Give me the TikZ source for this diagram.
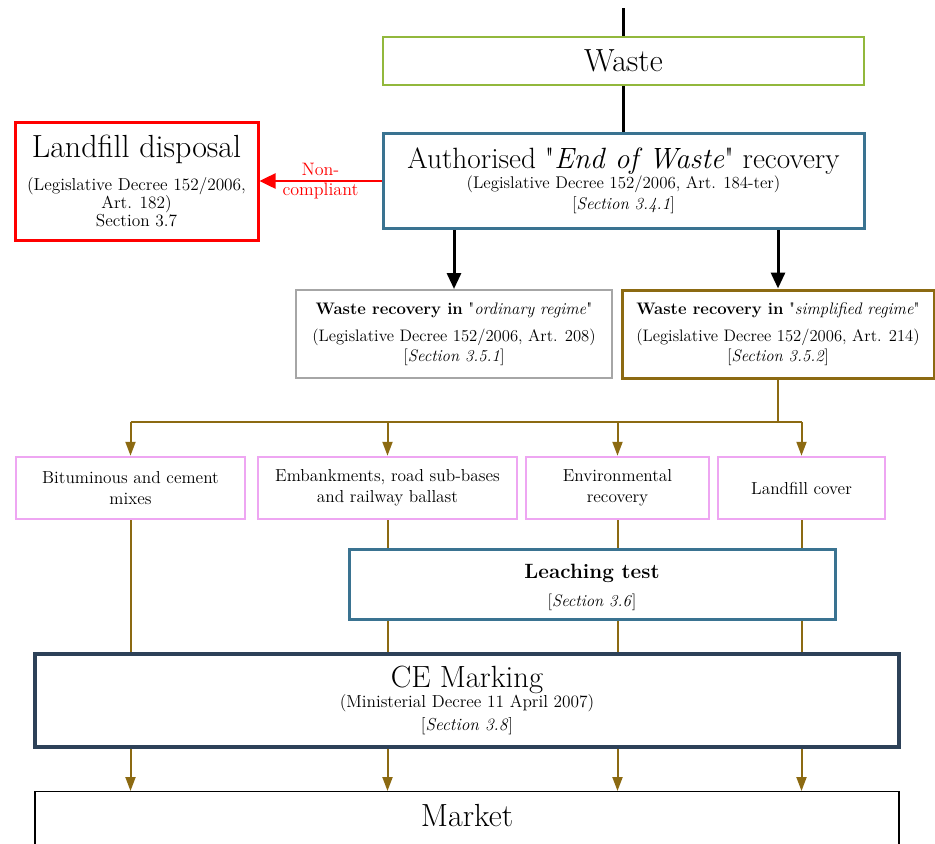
\documentclass[tikz,border=0pt]{standalone}
\usepackage{xcolor}
\usetikzlibrary{arrows.meta}

\definecolor{wastegreen}{HTML}{92B83C}
\definecolor{authblue}{HTML}{3A7391}
\definecolor{landred}{HTML}{FF0000}
\definecolor{ordgray}{HTML}{A6A6A6}
\definecolor{simpbrown}{HTML}{8C6A12}
\definecolor{usepink}{HTML}{EEA6F2}
\definecolor{cenavy}{HTML}{2D4158}

\newcommand{\px}{0.75pt}
\newcommand{\fs}[2]{\fontsize{#1}{#2}\selectfont}
\newcommand{\qq}[1]{\textquotedbl#1\textquotedbl}

\begin{document}
\begin{tikzpicture}[x=\px, y=-\px,
            box/.style={draw, rectangle, align=center, fill=white, inner sep=1pt},
            bigtxt/.style={font=\fs{24}{28}},
            blackline/.style={line width=3*\px, black},
            blackarrow/.style={blackline, -{Triangle[width=14*\px,length=16*\px]}},
            redarrow/.style={line width=2.5*\px, landred, -{Triangle[width=15*\px,length=16*\px]}},
            brownline/.style={line width=2*\px, simpbrown},
            brownarrow/.style={brownline, -{Triangle[width=10*\px,length=14*\px]}},
            usebox/.style={box, draw=usepink, line width=2.5*\px, minimum height=62*\px, font=\fs{13}{15.75}}]
        \useasboundingbox (0,0) rectangle (935,843);

        % main chain
        \coordinate (top) at (623.5,8);
        \node[box, bigtxt, draw=wastegreen, line width=2*\px, minimum width=481*\px, minimum height=48*\px] (waste) at (623.5,61) {Waste};
        \node[box, draw=authblue, line width=3*\px, minimum width=481*\px, minimum height=95*\px, font=\fs{12.7}{13.5}] (auth) at (623.5,181)
            {{\fs{22}{26}Authorised \qq{\textit{End of Waste}} recovery}\\
             (Legislative Decree 152/2006, Art. 184-ter)\\[2pt]
             {[}\textit{Section 3.4.1}{]}};
        \node[box, draw=landred, line width=3*\px, minimum width=243*\px, minimum height=118*\px, font=\fs{13}{13.5}] (land) at (136.5,181)
            {{\fs{24}{28}Landfill disposal}\\[9pt]
             (Legislative Decree 152/2006,\\
             Art. 182)\\
             Section 3.7};

        % regimes
        \node[box, draw=ordgray, line width=2*\px, minimum width=316*\px, minimum height=88*\px, font=\fs{12.5}{15}] (ord) at (454,334)
            {\textbf{Waste recovery in} \qq{\textit{ordinary regime}}\\[5pt]
             (Legislative Decree 152/2006, Art. 208)\\
             {[}\textit{Section 3.5.1}{]}};
        \node[box, draw=simpbrown, line width=3*\px, minimum width=312*\px, minimum height=88*\px, font=\fs{12.5}{15}] (simp) at (778,334)
            {\textbf{Waste recovery in} \qq{\textit{simplified regime}}\\[5pt]
             (Legislative Decree 152/2006, Art. 214)\\
             {[}\textit{Section 3.5.2}{]}};

        % uses
        \node[usebox, minimum width=229*\px] (b1) at (130.5,488) {Bituminous and cement\\mixes};
        \node[usebox, minimum width=259*\px] (b2) at (387.5,488) {Embankments, road sub-bases\\and railway ballast};
        \node[usebox, minimum width=183*\px] (b3) at (617.5,488) {Environmental\\recovery};
        \node[usebox, minimum width=167*\px] (b4) at (801.5,488) {Landfill cover};

        \node[box, draw=authblue, line width=3*\px, minimum width=486*\px, minimum height=70*\px, font=\fs{12.5}{15}] (leach) at (592,584)
            {{\fs{15.5}{18}\rule{0pt}{16pt}\textbf{Leaching test}}\\[6pt]
             {[}\textit{Section 3.6}{]}};
        \node[box, draw=cenavy, line width=4*\px, minimum width=864*\px, minimum height=93*\px, font=\fs{13}{15}] (ce) at (467,700.5)
            {{\fs{23}{27}CE Marking}\\
             (Ministerial Decree 11 April 2007)\\[2pt]
             {[}\textit{Section 3.8}{]}};
        \node[box, bigtxt, draw=black, line width=1.2*\px, anchor=north, minimum width=864*\px,
              inner ysep=0pt, text height=35*\px, text depth=45*\px] (market) at (467,791) {Market};

        % connectors
        \draw[blackline] (top) -- (waste.north);
        \draw[blackline] (waste.south) -- (auth.north);
        \draw[redarrow] (auth.west) -- node[midway, align=center, font=\fs{13.5}{15}, text=landred]{Non-\\compliant} (land.east);
        \draw[blackarrow] (ord |- auth.south) -- (ord.north);
        \draw[blackarrow] (simp |- auth.south) -- (simp.north);

        \coordinate (split) at (779,422);
        \draw[brownline] (simp.south) -- (simp.south |- split);
        \draw[brownline] (b1 |- split) -- (b4 |- split);
        \foreach \b in {b1,b2,b3,b4}
            \draw[brownarrow] (\b |- split) -- (\b.north);
        \draw[brownline] (b1.south) -- (b1 |- ce.north);
        \foreach \b in {b2,b3,b4} {
            \draw[brownline] (\b.south) -- (\b |- leach.north);
            \draw[brownline] (\b |- leach.south) -- (\b |- ce.north);
        }
        \foreach \b in {b1,b2,b3,b4}
            \draw[brownarrow] (\b |- ce.south) -- (\b |- market.north);
    \end{tikzpicture}
\end{document}
